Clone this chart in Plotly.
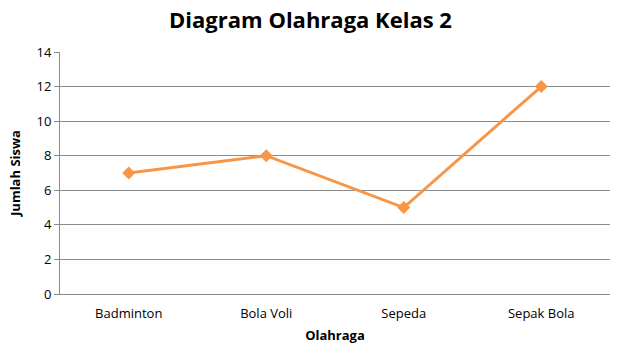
import plotly.graph_objects as go

categories = ["Badminton", "Bola Voli", "Sepeda", "Sepak Bola"]
values = [7, 8, 5, 12]
y_ticks = [0, 2, 4, 6, 8, 10, 12, 14]

FONT = "Open Sans"
GRID = "#8c8c8c"
ORANGE = "#F79646"

fig = go.Figure()
fig.add_trace(go.Scatter(
    x=categories, y=values, mode="lines+markers",
    line=dict(color=ORANGE, width=3),
    marker=dict(symbol="diamond", size=10, color=ORANGE),
    showlegend=False,
))

fig.update_layout(
    width=621, height=356,
    margin=dict(l=60, r=11, t=52, b=62, autoexpand=False),
    paper_bgcolor="white", plot_bgcolor="white",
    title=dict(text="<b>Diagram Olahraga Kelas 2</b>", x=0.5, xanchor="center",
               y=1 - 20 / 356, yanchor="middle",
               font=dict(family=FONT, size=22, color="black")),
    font=dict(family=FONT, size=13, color="black"),
)
fig.update_xaxes(
    showline=True, linecolor=GRID, linewidth=1, automargin=False,
    showgrid=False, ticks="", tickfont=dict(size=13, color="black"),
    ticklabelstandoff=7,
    title=dict(text="<b>Olahraga</b>", font=dict(size=13), standoff=10),
    range=[-0.5, 3.5],
)
fig.update_yaxes(
    range=[0, 14], tickvals=y_ticks, showgrid=True, gridcolor=GRID, gridwidth=1,
    showline=True, linecolor=GRID, linewidth=1, ticks="outside", ticklen=5,
    tickcolor=GRID, tickfont=dict(size=13, color="black"), zeroline=False,
    automargin=False,
    title=dict(text="<b>Jumlah Siswa</b>", font=dict(size=13), standoff=12),
)

fig.write_html("out.html", config={"displayModeBar": False},
               post_script="document.body.style.margin='0';")
